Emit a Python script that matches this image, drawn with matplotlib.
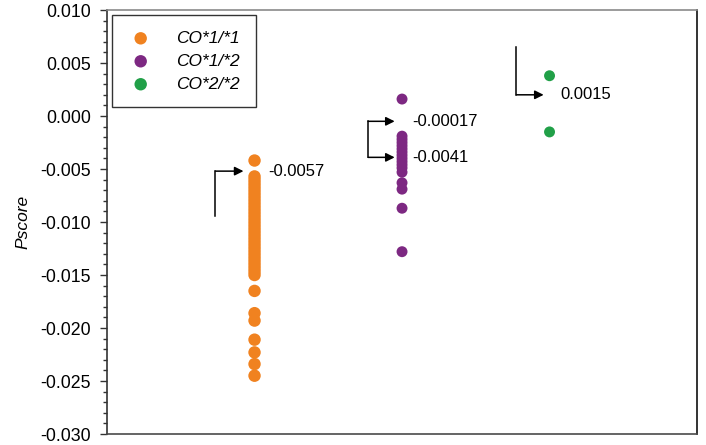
import numpy as np
import matplotlib
matplotlib.use('Agg')
import matplotlib.pyplot as plt
from matplotlib.ticker import MultipleLocator

plt.rcParams['font.family'] = ['Liberation Sans', 'DejaVu Sans']

# ── Data ───────────────────────────────────────────────────────────────────
groups = ['CO*1/*1', 'CO*1/*2', 'CO*2/*2']
colors = ['#F08220', '#7D2882', '#21A048']
x_pos = [1, 2, 3]
marker_sizes = [80, 62, 62]

pscore_11 = [-0.0042, -0.0057, -0.0060, -0.0063, -0.0066, -0.0069, -0.0072,
             -0.0075, -0.0078, -0.0081, -0.0084, -0.0087, -0.0090, -0.0093,
             -0.0096, -0.0099, -0.0102, -0.0105, -0.0108, -0.0111, -0.0114,
             -0.0117, -0.0120, -0.0123, -0.0126, -0.0129, -0.0132, -0.0135,
             -0.0138, -0.0141, -0.0144, -0.0147, -0.0150, -0.0165, -0.0186,
             -0.0193, -0.0211, -0.0223, -0.0234, -0.0245]
pscore_12 = [0.0016, -0.0019, -0.0022, -0.0025, -0.0028, -0.0031, -0.0034,
             -0.0037, -0.0040, -0.0043, -0.0046, -0.0049, -0.0053, -0.0063,
             -0.0069, -0.0087, -0.0128]
pscore_22 = [0.0038, -0.0015]
series = [pscore_11, pscore_12, pscore_22]

# annotated means: (label, y where the arrow points)
mean_labels = [['-0.0057'], ['-0.00017', '-0.0041'], ['0.0015']]
mean_arrow_y = [[-0.0052], [-0.0005, -0.0039], [0.0020]]

fig = plt.figure(figsize=(7.06, 4.45), dpi=100)
ax = fig.add_axes([0.1516, 0.0247, 0.8357, 0.9528])

for xp, vals, col, name, ms in zip(x_pos, series, colors, groups, marker_sizes):
    ax.scatter(np.full(len(vals), xp), vals, s=ms, color=col,
               edgecolors='none', label=name, zorder=3)

# bracket arrows pointing at the mean values
arrow_kw = dict(arrowstyle='-|>', mutation_scale=13, lw=1.1, color='black',
                shrinkA=0, shrinkB=0)
ann_size = 12
# group 1: line rises from below
ax.plot([0.735, 0.735], [-0.0094, mean_arrow_y[0][0]], color='black', lw=1.1)
ax.annotate('', xy=(0.925, mean_arrow_y[0][0]), xytext=(0.735, mean_arrow_y[0][0]),
            arrowprops=arrow_kw)
ax.text(1.095, mean_arrow_y[0][0], mean_labels[0][0], fontsize=ann_size, va='center')
# group 2: bracket with two arrows
ax.plot([1.77, 1.77], mean_arrow_y[1], color='black', lw=1.1)
for yv, lab in zip(mean_arrow_y[1], mean_labels[1]):
    ax.annotate('', xy=(1.95, yv), xytext=(1.77, yv), arrowprops=arrow_kw)
    ax.text(2.07, yv, lab, fontsize=ann_size, va='center')
# group 3: line drops from above
ax.plot([2.776, 2.776], [0.0065, mean_arrow_y[2][0]], color='black', lw=1.1)
ax.annotate('', xy=(2.96, mean_arrow_y[2][0]), xytext=(2.776, mean_arrow_y[2][0]),
            arrowprops=arrow_kw)
ax.text(3.075, mean_arrow_y[2][0], mean_labels[2][0], fontsize=ann_size, va='center')

ax.set_xlim(0, 4)
ax.set_xticks([])
ax.yaxis.set_major_locator(MultipleLocator(0.005))
ax.yaxis.set_minor_locator(MultipleLocator(0.001))
ax.yaxis.set_major_formatter(lambda v, pos: f'{v:.3f}'.replace('-0.000', '0.000'))
ax.set_ylim(-0.030, 0.010)
ax.tick_params(axis='y', which='major', direction='out', length=5, width=1,
               labelsize=12.8, pad=6.5, color='#333333')
ax.tick_params(axis='y', which='minor', direction='out', length=3, width=1,
               color='#333333')
ax.set_ylabel('Pscore', fontsize=12.5, style='italic', labelpad=7)

ax.spines['top'].set_color('#8a8a8a')
ax.spines['bottom'].set_color('#4a4a4a')
ax.spines['left'].set_color('#333333')
ax.spines['right'].set_color('#111111')
for sp in ax.spines.values():
    sp.set_linewidth(1.2)

leg = ax.legend(loc='upper left', bbox_to_anchor=(0.0085, 0.988),
                borderaxespad=0, fancybox=False, edgecolor='black',
                prop={'size': 12.5, 'style': 'italic'}, handletextpad=1.3,
                labelspacing=0.45, borderpad=0.9, handlelength=1.5)
for h in leg.legend_handles:
    h.set_sizes([80])
leg.get_frame().set_linewidth(1.0)

fig.savefig('out.png', dpi=100)
